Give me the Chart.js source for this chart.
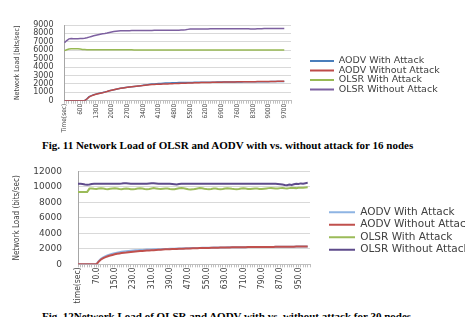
<!DOCTYPE html>
<html><head><meta charset="utf-8">
<script src="https://cdn.jsdelivr.net/npm/chart.js@4"></script>
<style>
html,body{margin:0;padding:0;background:#fff;}
body{width:465px;height:317px;overflow:hidden;position:relative;}
.box{position:absolute;left:0;width:465px;}
#c1wrap{top:0;height:135px;}
#c2wrap{top:150px;height:155px;}
.cap{position:absolute;left:42px;white-space:nowrap;font-family:'Liberation Serif','Times New Roman',serif;font-weight:bold;font-size:11px;line-height:13px;color:#000;}
</style></head><body>
<div class="box" id="c1wrap"><canvas id="c1"></canvas></div>
<div class="cap" style="top:139px">Fig. 11 Network Load of OLSR and AODV with vs. without attack for 16 nodes</div>
<div class="box" id="c2wrap"><canvas id="c2"></canvas></div>
<div class="cap" style="top:310px">Fig. 12Network Load of OLSR and AODV with vs. without attack for 30 nodes</div>
<script>
// ---------- Chart 1 (16 nodes) ----------
const categories16 = ['Time(sec)','0','100','200','300','400','500','600','700','800','900','1000','1100','1200','1300','1400','1500','1600','1700','1800','1900','2000','2100','2200','2300','2400','2500','2600','2700','2800','2900','3000','3100','3200','3300','3400','3500','3600','3700','3800','3900','4000','4100','4200','4300','4400','4500','4600','4700','4800','4900','5000','5100','5200','5300','5400','5500','5600','5700','5800','5900','6000','6100','6200','6300','6400','6500','6600','6700','6800','6900','7000','7100','7200','7300','7400','7500','7600','7700','7800','7900','8000','8100','8200','8300','8400','8500','8600','8700','8800','8900','9000','9100','9200','9300','9400','9500','9600','9700','9800','9900','10000'];
const yTicks16 = [0,1000,2000,3000,4000,5000,6000,7000,8000,9000];
const aodvAtk16 = [0,0,0,0,0,0,0,0,0,0,
 220,470,600,700,780,850,910,970,1040,1110,
 1190,1250,1310,1370,1430,1480,1520,1560,1600,1630,
 1660,1700,1730,1760,1790,1830,1870,1910,1950,1980,
 2000,2020,2040,2060,2080,2090,2100,2110,2120,2130,
 2140,2150,2150,2160,2160,2170,2170,2170,2180,2180,
 2180,2190,2190,2190,2200,2200,2200,2200,2210,2210,
 2210,2210,2220,2220,2220,2220,2230,2230,2230,2230,
 2240,2240,2240,2240,2250,2250,2250,2250,2260,2260,
 2260,2260,2270,2270,2270,2280,2280,2280,2290];
const aodvNoAtk16 = [0,0,0,0,0,0,0,0,0,0,
 200,450,580,680,760,830,890,950,1020,1100,
 1180,1240,1300,1360,1420,1470,1510,1550,1590,1620,
 1650,1680,1710,1740,1770,1800,1840,1880,1910,1930,
 1940,1950,1960,1970,1980,1990,2000,2010,2020,2030,
 2040,2050,2060,2070,2080,2090,2100,2110,2120,2130,
 2140,2150,2150,2160,2170,2170,2180,2190,2190,2200,
 2200,2210,2210,2220,2220,2230,2230,2240,2240,2240,
 2250,2250,2250,2260,2260,2260,2270,2270,2270,2280,
 2280,2280,2290,2290,2290,2300,2300,2300,2310];
const olsrAtk16 = [5950,6050,6150,6180,6180,6180,6170,6150,6100,6080,
 6060,6060,6050,6050,6050,6050,6050,6050,6050,6050,
 6050,6050,6050,6050,6050,6050,6050,6050,6050,6050,
 6050,6040,6040,6040,6040,6040,6040,6040,6040,6040,
 6040,6040,6040,6040,6040,6040,6040,6040,6040,6040,
 6040,6040,6040,6040,6040,6040,6040,6040,6040,6040,
 6040,6040,6040,6040,6040,6040,6040,6040,6040,6040,
 6040,6040,6040,6040,6040,6040,6040,6040,6040,6040,
 6040,6040,6040,6040,6040,6040,6040,6040,6040,6040,
 6040,6040,6040,6040,6040,6040,6040,6040,6040];
const olsrNoAtk16 = [6900,7150,7350,7400,7380,7380,7380,7390,7400,7420,
 7480,7560,7640,7720,7790,7850,7910,7960,8000,8050,
 8120,8180,8230,8270,8300,8320,8320,8330,8330,8330,
 8340,8340,8340,8350,8350,8350,8360,8360,8360,8360,
 8370,8370,8370,8370,8380,8380,8380,8380,8390,8390,
 8390,8390,8400,8400,8430,8480,8510,8520,8520,8520,
 8530,8530,8530,8530,8530,8540,8540,8540,8540,8540,
 8540,8550,8550,8550,8550,8550,8550,8550,8560,8560,
 8560,8560,8550,8520,8510,8530,8560,8560,8560,8570,
 8570,8570,8570,8570,8570,8570,8570,8580,8580];

// ---------- Chart 2 (30 nodes) ----------
const categories30 = ['time(sec)','0.0','10.0','20.0','30.0','40.0','50.0','60.0','70.0','80.0','90.0','100.0','110.0','120.0','130.0','140.0','150.0','160.0','170.0','180.0','190.0','200.0','210.0','220.0','230.0','240.0','250.0','260.0','270.0','280.0','290.0','300.0','310.0','320.0','330.0','340.0','350.0','360.0','370.0','380.0','390.0','400.0','410.0','420.0','430.0','440.0','450.0','460.0','470.0','480.0','490.0','500.0','510.0','520.0','530.0','540.0','550.0','560.0','570.0','580.0','590.0','600.0','610.0','620.0','630.0','640.0','650.0','660.0','670.0','680.0','690.0','700.0','710.0','720.0','730.0','740.0','750.0','760.0','770.0','780.0','790.0','800.0','810.0','820.0','830.0','840.0','850.0','860.0','870.0','880.0','890.0','900.0','910.0','920.0','930.0','940.0','950.0','960.0','970.0','980.0','990.0','1000.0'];
const yTicks30 = [0,2000,4000,6000,8000,10000,12000];
const aodvAtk30 = [0,0,0,0,0,0,0,0,0,400,
 700,900,1050,1170,1270,1360,1440,1500,1560,1610,
 1650,1690,1720,1750,1780,1800,1820,1840,1860,1880,
 1900,1910,1920,1930,1940,1950,1960,1970,1980,1990,
 2000,2010,2020,2030,2040,2050,2060,2070,2080,2090,
 2100,2110,2110,2120,2130,2140,2140,2150,2150,2160,
 2160,2170,2170,2180,2180,2190,2190,2190,2200,2200,
 2200,2210,2210,2210,2220,2220,2220,2230,2230,2230,
 2240,2240,2240,2250,2250,2250,2260,2260,2260,2270,
 2270,2270,2280,2280,2280,2290,2290,2290,2300,2300,
 2310];
const aodvNoAtk30 = [0,0,0,0,0,0,0,0,0,350,
 620,800,930,1040,1130,1210,1290,1350,1400,1450,
 1490,1520,1560,1590,1620,1650,1680,1710,1730,1750,
 1770,1790,1810,1830,1850,1870,1890,1910,1930,1950,
 1960,1970,1980,1990,2000,2010,2020,2030,2040,2050,
 2060,2070,2080,2090,2100,2110,2110,2120,2130,2140,
 2150,2150,2160,2170,2170,2180,2180,2190,2190,2200,
 2200,2210,2210,2210,2220,2220,2220,2230,2230,2230,
 2240,2240,2240,2250,2250,2250,2260,2260,2260,2270,
 2270,2270,2280,2280,2280,2290,2290,2290,2300,2300,
 2300];
const olsrAtk30 = [9350,9350,9350,9350,9350,9780,9800,9760,9740,9780,
 9820,9790,9740,9700,9760,9800,9830,9780,9720,9700,
 9750,9800,9760,9700,9680,9720,9780,9820,9790,9740,
 9700,9720,9780,9840,9800,9750,9720,9760,9800,9780,
 9720,9680,9700,9760,9820,9860,9820,9760,9700,9660,
 9680,9740,9800,9850,9820,9760,9720,9700,9740,9800,
 9780,9730,9700,9720,9780,9820,9800,9750,9720,9700,
 9740,9790,9820,9780,9740,9720,9760,9800,9780,9740,
 9720,9760,9800,9840,9860,9820,9780,9800,9840,9860,
 9820,9800,9840,9880,9860,9840,9880,9900,9880,9920,
 9940];
const olsrNoAtk30 = [10400,10400,10380,10300,10280,10300,10380,10400,10400,10410,
 10400,10390,10400,10410,10400,10400,10390,10400,10420,10440,
 10470,10470,10440,10410,10400,10400,10390,10400,10400,10410,
 10400,10430,10460,10460,10440,10410,10400,10400,10390,10400,
 10400,10380,10350,10320,10380,10400,10400,10410,10400,10400,
 10400,10390,10400,10410,10400,10400,10400,10390,10400,10410,
 10400,10400,10410,10400,10390,10400,10400,10400,10410,10400,
 10400,10390,10400,10400,10410,10400,10400,10400,10390,10400,
 10400,10410,10400,10400,10400,10390,10400,10380,10340,10300,
 10250,10220,10300,10260,10350,10400,10380,10450,10420,10480,
 10520];

const seriesNames = ['AODV With Attack','AODV Without Attack','OLSR With Attack','OLSR Without Attack'];

// legend positioning plugin
const legendPlace = {
  id: 'legendPlace',
  afterLayout(chart, args, opts) {
    const l = chart.legend;
    if (!l || opts.x === undefined) return;
    const w = l.width, h = l.height;
    l.left = opts.x; l.right = opts.x + w;
    l.top = opts.y; l.bottom = opts.y + h;
  }
};
Chart.register(legendPlace);

function makeChart(id, cfg) {
  const ds = cfg.series.map((vals, i) => ({
    label: seriesNames[i],
    data: vals,
    borderColor: cfg.colors[i],
    backgroundColor: cfg.colors[i],
    borderWidth: cfg.lineWidth,
    pointRadius: 0,
    tension: 0,
    fill: false,
    order: 4 - i
  }));
  return new Chart(document.getElementById(id), {
    type: 'line',
    data: { labels: cfg.categories, datasets: ds },
    options: {
      responsive: true,
      maintainAspectRatio: false,
      animation: false,
      events: [],
      layout: { padding: cfg.padding },
      plugins: {
        tooltip: { enabled: false },
        legendPlace: cfg.legendPos,
        legend: {
          display: true,
          position: 'chartArea',
          align: 'start',
          labels: {
            boxWidth: cfg.legendBox,
            boxHeight: 2,
            padding: cfg.legendPad,
            color: '#404040',
            font: { family: 'DejaVu Sans', size: cfg.legendFont },
            sort: (a, b) => a.datasetIndex - b.datasetIndex,
            generateLabels(chart) {
              const items = Chart.defaults.plugins.legend.labels.generateLabels(chart);
              items.forEach(it => { it.fillStyle = it.strokeStyle; it.lineWidth = 0; });
              return items;
            }
          }
        }
      },
      scales: {
        x: {
          type: 'category',
          offset: false,
          afterFit: s => { s.height = cfg.xHeight; },
          grid: { display: true, drawOnChartArea: false, drawTicks: true, tickLength: 3, color: '#bfbfbf' },
          border: { display: true, color: '#bfbfbf' },
          ticks: {
            autoSkip: false,
            minRotation: 90,
            maxRotation: 90,
            padding: 0,
            color: '#404040',
            font: { family: "'Liberation Sans Narrow','DejaVu Sans Condensed','Liberation Sans'", size: cfg.xFont },
            callback: function(v, i) { return i % cfg.labelEvery === 0 ? this.getLabelForValue(v) : ''; }
          }
        },
        y: {
          min: cfg.yTicks[0],
          max: cfg.yTicks[cfg.yTicks.length - 1],
          afterFit: s => { s.width = cfg.yWidth; },
          afterBuildTicks: s => { s.ticks = cfg.yTicks.map(v => ({ value: v })); },
          grid: { color: '#d9d9d9', drawTicks: false },
          border: { display: true, color: '#a6a6a6' },
          ticks: {
            autoSkip: false,
            padding: cfg.yPad,
            color: '#404040',
            font: { family: 'DejaVu Sans', size: cfg.yFont },
            callback: v => String(v)
          },
          title: {
            display: true,
            text: cfg.yTitle,
            color: '#404040',
            font: { family: "'Liberation Sans Narrow','DejaVu Sans Condensed','Liberation Sans'", size: cfg.titleFont },
            padding: { top: cfg.titlePad, bottom: 0 }
          }
        }
      }
    }
  });
}

makeChart('c1', {
  categories: categories16,
  series: [aodvAtk16, aodvNoAtk16, olsrAtk16, olsrNoAtk16],
  colors: ['#4a7ebb', '#be4b48', '#98b954', '#7d60a0'],
  lineWidth: 1.5,
  padding: { top: 25, right: 174, bottom: 0, left: 0 },
  xHeight: 34.3,
  yWidth: 64.5,
  yTicks: yTicks16,
  yPad: 11,
  yFont: 8,
  xFont: 6.5,
  labelEvery: 7,
  yTitle: 'Network Load [bits/sec]',
  titleFont: 7,
  titlePad: 12.5,
  legendPos: { x: 310, y: 56.2 },
  legendBox: 24,
  legendPad: 0,
  legendFont: 9.5
});

makeChart('c2', {
  categories: categories30,
  series: [aodvAtk30, aodvNoAtk30, olsrAtk30, olsrNoAtk30],
  colors: ['#8eb4e3', '#c0504d', '#9bbb59', '#5e4b8b'],
  lineWidth: 2,
  padding: { top: 14.3, right: 155, bottom: 0, left: 0 },
  xHeight: 40.7,
  yWidth: 78,
  yTicks: yTicks30,
  yPad: 16,
  yFont: 9,
  xFont: 8.5,
  labelEvery: 8,
  yTitle: 'Network Load (bits/sec)',
  titleFont: 8,
  titlePad: 12,
  legendPos: { x: 327, y: 55 },
  legendBox: 26,
  legendPad: 2,
  legendFont: 10.5
});
</script>
</body></html>
